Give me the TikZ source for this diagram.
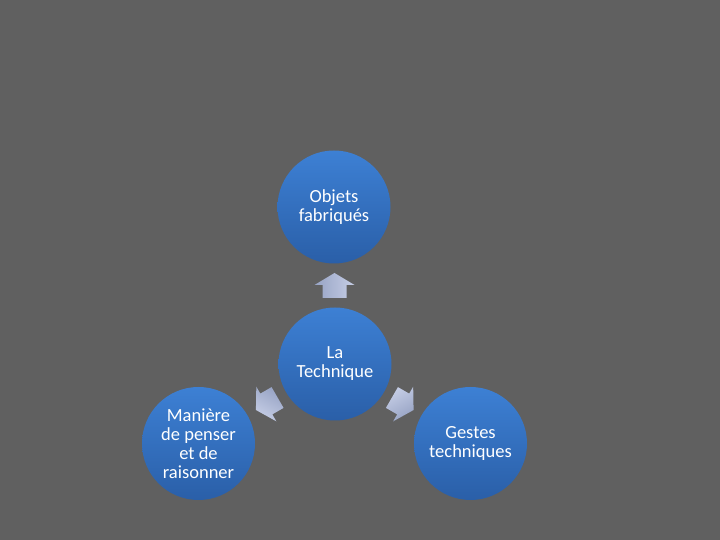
\documentclass[tikz,border=0pt]{standalone}
\usepackage{fontspec}
\setmainfont{Carlito}
\usetikzlibrary{calc}
\definecolor{fond}{HTML}{606060}
\definecolor{bleuH}{HTML}{3D80D4}
\definecolor{bleuB}{HTML}{2A5FA8}
\definecolor{flecheH}{HTML}{C6CEE6}
\definecolor{flecheB}{HTML}{97A3C4}
\begin{document}
\begin{tikzpicture}[x=1pt,y=1pt,font=\fontsize{18.5}{19}\selectfont,
	rond/.style={circle,minimum size=113pt,inner sep=0pt,top color=bleuH,bottom color=bleuB,text=white,align=center},
	fleche/.style={top color=flecheH,bottom color=flecheB,rotate=#1,shading angle=-#1}]
	\fill[fond] (0,0) rectangle (720,540);
	\node[rond] (obj) at (334,333) {Objets\\fabriqués};
	\node[rond] (tech) at (335,176) {La\\Technique};
	\node[rond] (pense) at (198.5,96.5) {Manière\\de penser\\et de\\raisonner};
	\node[rond] (gestes) at (470.5,96.5) {Gestes\\techniques};
	% fleches vers l'exterieur
	\foreach \cible/\ang in {obj/90,pense/210,gestes/-30}
	{
		\shade[shift={($(tech)!0.5!(\cible)$)},fleche=\ang]
		(-12.5,-12) -- (0.5,-12) -- (0.5,-20) -- (12.5,0) -- (0.5,20) -- (0.5,12) -- (-12.5,12) -- cycle;
	}
\end{tikzpicture}
\end{document}
